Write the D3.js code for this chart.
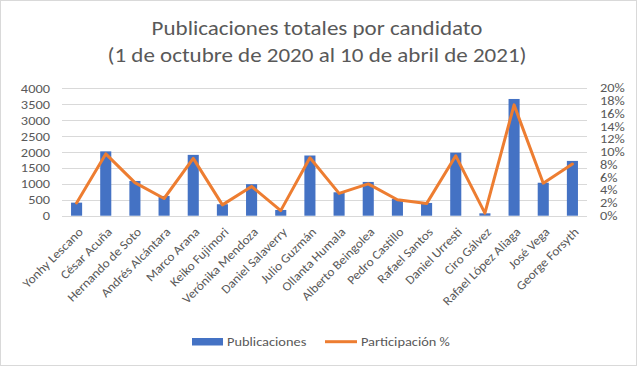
<!DOCTYPE html>
<html><head><meta charset="utf-8">
<script src="https://cdn.jsdelivr.net/npm/d3@7/dist/d3.min.js"></script>
<style>body{margin:0;background:#fff}svg{display:block}</style>
</head><body>
<script>
const categories = ["Yonhy Lescano","César Acuña","Hernando de Soto","Andrés Alcántara","Marco Arana","Keiko Fujimori","Verónika Mendoza","Daniel Salaverry","Julio Guzmán","Ollanta Humala","Alberto Beingolea","Pedro Castillo","Rafael Santos","Daniel Urresti","Ciro Gálvez","Rafael López Aliaga","José Vega","George Forsyth"];
const publicaciones = [410,2020,1090,620,1910,360,990,180,1890,735,1060,525,400,1980,75,3665,1035,1720];
const participacion = [2.0,9.7,5.2,2.7,9.0,1.7,4.6,0.8,9.1,3.5,5.0,2.5,1.9,9.4,0.4,17.4,5.1,8.1];
const leftTicks = [0,500,1000,1500,2000,2500,3000,3500,4000];
const rightTicks = [0,2,4,6,8,10,12,14,16,18,20];
const titleLines = ["Publicaciones totales por candidato","(1 de octubre de 2020 al 10 de abril de 2021)"];
const legendLabels = ["Publicaciones","Participación %"];

const W=637,H=366, S=1.15;
const font="Carlito, Calibri, Lato, 'Open Sans', sans-serif";
const txtCol="#595959";
const svg=d3.select("body").append("svg").attr("width",W).attr("height",H);
svg.append("rect").attr("x",0.5).attr("y",0.5).attr("width",W-1).attr("height",H-1).attr("fill","#fff").attr("stroke","#d9d9d9");

const m={l:62,r:587,t:88.3,b:215.7};
const x=d3.scaleBand().domain(categories).range([m.l,m.r]).paddingInner(0.62).paddingOuter(0.31);
const y=d3.scaleLinear().domain([0,4000]).range([m.b,m.t]);
const y2=d3.scaleLinear().domain([0,20]).range([m.b,m.t]);

function label(g,tx,ty,text,size,anchor,tf){
  return g.append("g").attr("transform",`translate(${tx},${ty}) ${tf||`scale(${S},1)`}`)
   .append("text").attr("text-anchor",anchor).attr("font-family",font).attr("font-size",size).attr("fill",txtCol).text(text);
}

// title
const tg=svg.append("g");
titleLines.forEach((t,i)=>label(tg,317,35+i*27,t,20,"middle"));

// grid
svg.append("g").selectAll("line").data(leftTicks).join("line")
 .attr("x1",m.l).attr("x2",m.r).attr("y1",d=>Math.round(y(d))+0.5).attr("y2",d=>Math.round(y(d))+0.5)
 .attr("stroke","#d9d9d9").attr("stroke-width",1);

// left axis
const ga=svg.append("g").attr("transform",`translate(${m.l-12},0)`).call(d3.axisLeft(y).tickValues(leftTicks).tickFormat(d3.format("d")).tickSize(0).tickPadding(0));
ga.select(".domain").remove();
ga.selectAll("text").attr("x",0).attr("transform",`scale(${S},1)`).attr("font-family",font).attr("font-size",12.5).attr("fill",txtCol);

// right axis
const gr=svg.append("g").attr("transform",`translate(${m.r+13},0)`).call(d3.axisRight(y2).tickValues(rightTicks).tickFormat(d=>d+"%").tickSize(0).tickPadding(0));
gr.select(".domain").remove();
gr.selectAll("text").attr("x",0).attr("transform",`scale(1.25,1)`).attr("font-family",font).attr("font-size",11.5).attr("fill",txtCol);

// bars
svg.append("g").selectAll("rect").data(publicaciones).join("rect")
 .attr("x",(d,i)=>x(categories[i])).attr("width",x.bandwidth())
 .attr("y",d=>y(d)).attr("height",d=>y(0)-y(d)).attr("fill","#4472c4");

// line
const line=d3.line().x((d,i)=>x(categories[i])+x.bandwidth()/2).y(d=>y2(d));
svg.append("path").datum(participacion).attr("d",line).attr("fill","none")
 .attr("stroke","#ed7d31").attr("stroke-width",3).attr("stroke-linejoin","round").attr("stroke-linecap","round");

// x labels
const xg=svg.append("g");
categories.forEach(c=>{
  label(xg,x(c)+x.bandwidth()/2+4,m.b+14,c,12.5,"end","rotate(-45) scale(1.07,1)").attr("dy","0.35em");
});

// legend
const lg=svg.append("g");
lg.append("rect").attr("x",192).attr("y",338).attr("width",31).attr("height",7.5).attr("fill","#4472c4");
label(lg,227,346,legendLabels[0],12.5,"start");
lg.append("line").attr("x1",325).attr("x2",357).attr("y1",341.7).attr("y2",341.7).attr("stroke","#ed7d31").attr("stroke-width",3);
label(lg,361,346,legendLabels[1],12.5,"start");
</script>
</body></html>
